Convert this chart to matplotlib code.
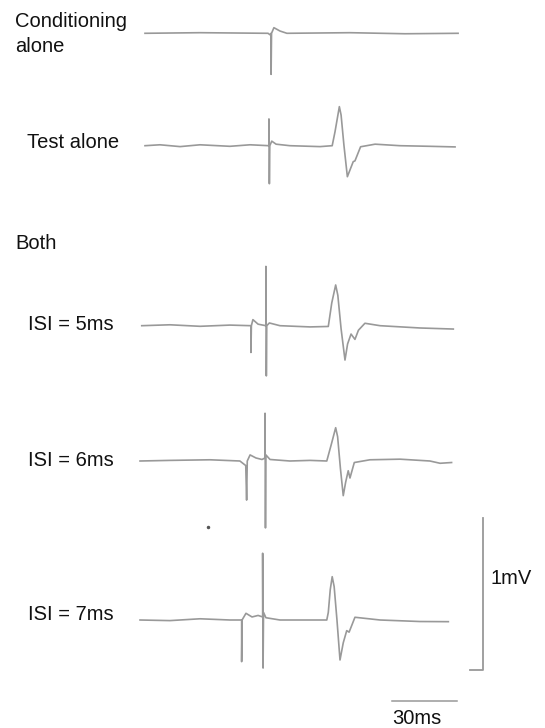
import matplotlib
matplotlib.use("Agg")
import matplotlib.pyplot as plt

plt.rcParams['font.family'] = ['Liberation Sans', 'DejaVu Sans']

# traces: time in ms, amplitude in mV (relative to each trace's baseline)
cond_t = [0, 25.4, 56.8, 57.7, 58.2, 58.2, 58.4, 59.5, 62.3, 65.5, 94.6, 120, 144.5]
cond_v = [0, 0.004, 0, -0.01, 0, -0.27, 0, 0.037, 0.015, 0, 0.004, -0.003, 0]

test_t = [0, 6.9, 16.2, 25.4, 39.2, 48.5, 57.2, 57.2, 57.4, 57.6, 58.5, 60.5, 66.9,
          80.8, 86.4, 87.7, 89.7, 90.5, 91.8, 93.4, 94.6, 96.1, 96.9, 99.5, 106.2,
          117.7, 131.5, 143.1]
test_v = [0, 0.006, -0.006, 0.006, -0.004, 0.006, 0, 0.176, -0.25, 0, 0.03, 0.01, 0,
          -0.006, 0, 0.092, 0.257, 0.202, 0.005, -0.204, -0.16, -0.105, -0.1, -0.007,
          0.01, 0, -0.004, -0.008]

isi5_t = [-1.5, 11.5, 25.4, 39.2, 48.9, 48.9, 49.1, 49.8, 52.2, 54.0, 55.8, 55.8, 56.0,
          56.2, 57.4, 62.3, 76.2, 84.6, 86.2, 88.0, 89.0, 90.5, 92.3, 93.5, 95.1,
          96.9, 98.5, 101.5, 108.5, 126.9, 142.3]
isi5_v = [0, 0.006, -0.004, 0.004, 0, -0.176, 0, 0.04, 0.01, 0.005, 0, 0.39, -0.33,
          0, 0.018, 0, -0.008, -0.005, 0.15, 0.268, 0.2, -0.02, -0.226, -0.12, -0.055,
          -0.09, -0.03, 0.016, 0, -0.015, -0.022]

isi6_t = [-2.3, 11.5, 30.0, 43.8, 46.5, 46.9, 47.2, 48.5, 51.2, 54.0, 55.4, 55.4, 55.6,
          55.8, 57.7, 66.9, 76.2, 83.9, 86.0, 88.0, 88.9, 90.2, 91.5, 92.6, 93.8,
          94.6, 96.6, 103.8, 117.7, 131.5, 136.2, 141.5]
isi6_v = [0, 0.004, 0.008, 0, -0.03, -0.257, 0, 0.04, 0.02, 0.01, 0.02, 0.314, -0.44,
          0.04, 0.01, 0, 0.004, 0, 0.11, 0.219, 0.16, -0.05, -0.228, -0.14, -0.064,
          -0.112, -0.01, 0.008, 0.012, 0, -0.015, -0.01]

isi7_t = [-2.3, 11.5, 25.4, 39.2, 44.6, 44.6, 44.8, 46.6, 49.4, 52.2, 54.3, 54.3, 54.5,
          54.7, 55.8, 62.3, 76.2, 83.9, 84.6, 85.5, 86.4, 87.3, 88.6, 90.0, 91.5,
          93.1, 94.2, 96.9, 108.5, 126.9, 140.0]
isi7_v = [0, -0.004, 0.008, 0, 0, -0.274, 0, 0.044, 0.02, 0.03, 0.02, 0.439, -0.316,
          0.05, 0.015, 0, 0, 0, 0.05, 0.2, 0.285, 0.22, 0.0, -0.263, -0.15, -0.07,
          -0.08, 0.018, 0, -0.01, -0.011]

traces = [(cond_t, cond_v), (test_t, test_v), (isi5_t, isi5_v),
          (isi6_t, isi6_v), (isi7_t, isi7_v)]
labels = ["Conditioning\nalone", "Test alone", "ISI = 5ms", "ISI = 6ms", "ISI = 7ms"]

# layout (figure pixels -> data)
W, H = 545, 728
PX_MS = 65 / 30.0     # px per ms
PX_MV = 152.0         # px per mV
X0 = 145              # px where t = 0
baselines_px = [33.3, 145.7, 325.7, 461.0, 620.0]
label_px = [(15, 34), (27, 142), (28, 325), (28, 460), (28, 614)]

fig = plt.figure(figsize=(W / 100, H / 100), dpi=100)
ax = fig.add_axes([0, 0, 1, 1])
ax.set_xlim(-X0 / PX_MS, (W - X0) / PX_MS)
ax.set_ylim(-H / PX_MV, 0)
ax.axis('off')

col = '#999999'
for (t, v), base in zip(traces, baselines_px):
    off = -base / PX_MV
    ax.plot(t, [off + y for y in v], color=col, lw=1.2, solid_joinstyle='round')

for lab, (px, py) in zip(labels, label_px):
    fig.text(px / W, 1 - py / H, lab, fontsize=14.5, va='center', ha='left',
             linespacing=1.35, color='#111111')
fig.text(15 / W, 1 - 244 / H, "Both", fontsize=14.5, va='center', ha='left',
         color='#111111')

# stray dot
ax.plot([(208 - X0) / PX_MS], [-527 / PX_MV], 'o', ms=1.5, color='#555555')

# scale bars
bar_t0 = (392 - X0) / PX_MS
ax.plot([bar_t0, bar_t0 + 30], [-701 / PX_MV] * 2, color=col, lw=1.1)
vx = (483 - X0) / PX_MS
vy0 = -670 / PX_MV
ax.plot([(470 - X0) / PX_MS, vx, vx], [vy0, vy0, vy0 + 1.0], color=col, lw=1.3)
fig.text(490 / W, 1 - 578 / H, "1mV", fontsize=14.5, va='center', ha='left',
         color='#111111')
fig.text(392 / W, 1 - 718 / H, "30ms", fontsize=14.5, va='center', ha='left',
         color='#111111')

fig.savefig("out.png", dpi=100)
